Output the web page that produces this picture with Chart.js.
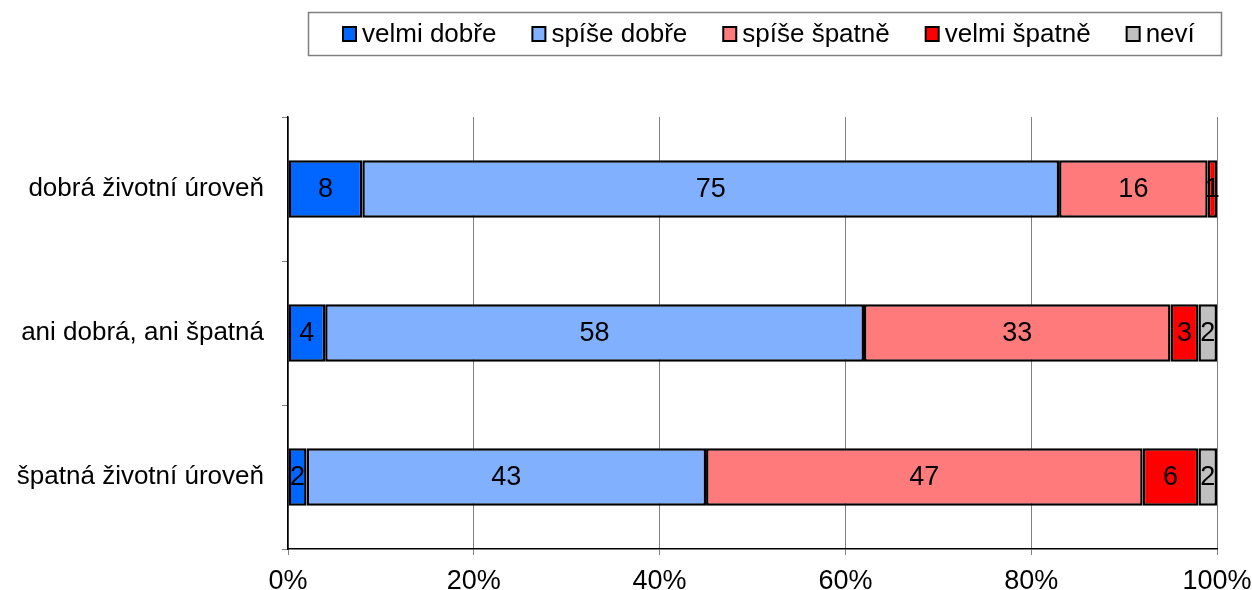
<!DOCTYPE html>
<html>
<head>
<meta charset="utf-8">
<script src="https://cdn.jsdelivr.net/npm/chart.js@4.4.1/dist/chart.umd.min.js"></script>
<style>
  html, body { margin: 0; padding: 0; background: #fff; }
  #wrap { position: relative; width: 1252px; height: 590px; }
</style>
</head>
<body>
<div id="wrap"><canvas id="c" width="1252" height="590"></canvas></div>
<script>
const categories = ["dobrá životní úroveň", "ani dobrá, ani špatná", "špatná životní úroveň"];
const seriesNames = ["velmi dobře", "spíše dobře", "spíše špatně", "velmi špatně", "neví"];
const velmiDobre = [8, 4, 2];
const spiseDobre = [75, 58, 43];
const spiseSpatne = [16, 33, 47];
const velmiSpatne = [1, 3, 6];
const nevi = [0, 2, 2];
const xTickLabels = ["0%", "20%", "40%", "60%", "80%", "100%"];
const colors = ["#0066FF", "#80B0FF", "#FF7B7B", "#FF0000", "#C0C0C0"];

const seriesValues = [velmiDobre, spiseDobre, spiseSpatne, velmiSpatne, nevi];
const FONT = "'Liberation Sans', Arial, sans-serif";

const datasets = seriesNames.map((name, i) => ({
  label: name,
  data: seriesValues[i],
  backgroundColor: colors[i],
  borderColor: "#000",
  borderWidth: 2.5,
  borderSkipped: false,
  barPercentage: 0.40,
  categoryPercentage: 1.0
}));

const valueLabels = {
  id: "valueLabels",
  afterDatasetsDraw(chart) {
    const ctx = chart.ctx;
    ctx.save();
    ctx.font = "27px " + FONT;
    ctx.fillStyle = "#000";
    ctx.textAlign = "center";
    ctx.textBaseline = "middle";
    chart.data.datasets.forEach((ds, di) => {
      const meta = chart.getDatasetMeta(di);
      meta.data.forEach((bar, i) => {
        const v = ds.data[i];
        if (!v) return;
        const cx = (bar.x + bar.base) / 2;
        ctx.fillText(String(v), cx, bar.y + 1);
      });
    });
    ctx.restore();
  }
};

const boxLegend = {
  id: "boxLegend",
  afterDraw(chart) {
    const ctx = chart.ctx;
    ctx.save();
    ctx.font = "26px " + FONT;
    ctx.textBaseline = "middle";
    ctx.textAlign = "left";
    ctx.strokeStyle = "#808080";
    ctx.lineWidth = 1.5;
    ctx.strokeRect(308.5, 12.5, 913, 43);
    let x = 343;
    const cy = 34;
    chart.data.datasets.forEach((ds, i) => {
      ctx.fillStyle = ds.backgroundColor;
      ctx.fillRect(x, cy - 7, 13, 14);
      ctx.strokeStyle = "#000";
      ctx.lineWidth = 2;
      ctx.strokeRect(x, cy - 7, 13, 14);
      ctx.fillStyle = "#000";
      ctx.fillText(ds.label, x + 19, cy + 1);
      const w = ctx.measureText(ds.label).width;
      x = x + 19 + w + 36;
    });
    ctx.restore();
  }
};

new Chart(document.getElementById("c"), {
  type: "bar",
  data: { labels: categories, datasets },
  options: {
    indexAxis: "y",
    responsive: false,
    animation: false,
    devicePixelRatio: 1,
    layout: { padding: { left: 0, right: 35, top: 117, bottom: 0 } },
    plugins: { legend: { display: false }, tooltip: { enabled: false } },
    scales: {
      x: {
        stacked: true,
        min: 0,
        max: 100,
        afterBuildTicks(scale) {
          scale.ticks = xTickLabels.map((t, i) => ({ value: i * 20 }));
        },
        afterFit(scale) {
          scale.height = 41;
          scale.paddingLeft = 0;
          scale.paddingRight = 0;
        },
        ticks: {
          callback: (v, i) => xTickLabels[i],
          font: { size: 27, family: FONT },
          color: "#000",
          padding: 10,
          maxRotation: 0,
          autoSkip: false
        },
        grid: { color: "#808080", lineWidth: 1, drawTicks: true, tickLength: 6, tickColor: "#808080" },
        border: { color: "#000", width: 1.5 }
      },
      y: {
        stacked: true,
        afterFit(scale) { scale.width = 288; scale.paddingTop = 0; scale.paddingBottom = 0; },
        ticks: {
          font: { size: 26, family: FONT },
          color: "#000",
          padding: 18
        },
        grid: { drawOnChartArea: false, drawTicks: true, tickLength: 6, color: "#808080", offset: true },
        border: { color: "#000", width: 1.5 }
      }
    }
  },
  plugins: [valueLabels, boxLegend]
});
</script>
</body>
</html>
